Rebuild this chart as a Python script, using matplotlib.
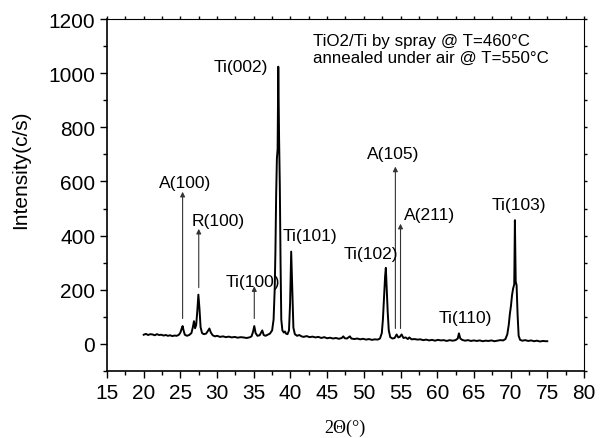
import matplotlib
matplotlib.use("Agg")
import matplotlib.pyplot as plt
from matplotlib.ticker import MultipleLocator

plt.rcParams['font.family'] = ['Liberation Sans', 'DejaVu Sans']

# XRD pattern (2theta in degrees, intensity in c/s)
two_theta = [
    20.0, 20.3, 20.6, 20.9, 21.2, 21.5, 21.8, 22.1, 22.4, 22.7, 23.0, 23.3, 23.6, 23.9,
    24.2, 24.5, 24.8, 25.0, 25.15, 25.3, 25.45, 25.6, 25.9, 26.2, 26.5, 26.7, 26.85, 27.0,
    27.15, 27.3, 27.45, 27.6, 27.75, 27.95, 28.2, 28.5, 28.75, 28.95, 29.15, 29.4, 29.7,
    30.0, 30.4, 30.8, 31.2, 31.6, 32.0, 32.4, 32.8, 33.2, 33.6, 34.0, 34.4, 34.7, 34.9,
    35.07, 35.25, 35.5, 35.8, 36.0, 36.16, 36.35, 36.6, 36.9, 37.2, 37.5, 37.7, 37.85,
    37.95, 38.05, 38.15, 38.25, 38.34, 38.45, 38.55, 38.65, 38.75, 38.9, 39.1, 39.25,
    39.4, 39.6, 39.8, 39.95, 40.1, 40.25, 40.4, 40.6, 40.9, 41.2, 41.5, 41.8, 42.2, 42.6,
    43.0, 43.4, 43.8, 44.2, 44.6, 45.0, 45.4, 45.8, 46.2, 46.6, 47.0, 47.2, 47.4, 47.7,
    48.1, 48.3, 48.7, 49.1, 49.5, 49.9, 50.3, 50.7, 51.1, 51.5, 51.9, 52.2, 52.45, 52.6,
    52.75, 52.9, 53.0, 53.1, 53.25, 53.4, 53.6, 53.9, 54.2, 54.47, 54.7, 54.9, 55.15,
    55.4, 55.7, 56.0, 56.2, 56.5, 56.9, 57.3, 57.7, 58.1, 58.5, 58.9, 59.3, 59.7, 60.1,
    60.5, 60.9, 61.3, 61.7, 62.1, 62.5, 62.8, 62.96, 63.15, 63.4, 63.8, 64.2, 64.6, 65.0,
    65.4, 65.8, 66.2, 66.6, 67.0, 67.4, 67.8, 68.2, 68.6, 69.0, 69.3, 69.55, 69.75, 69.9,
    70.05, 70.2, 70.35, 70.5, 70.59, 70.7, 70.82, 70.96, 71.1, 71.3, 71.6, 72.0, 72.4,
    72.8, 73.2, 73.6, 74.0, 74.4, 74.8, 75.0,
]
intensity = [
    34, 37, 33, 36, 35, 32, 36, 33, 34, 31, 33, 30, 32, 29,
    31, 30, 34, 42, 55, 66, 48, 34, 30, 33, 40, 62, 84, 58,
    70, 120, 182, 130, 62, 40, 36, 38, 48, 57, 42, 32, 28,
    30, 26, 28, 25, 27, 24, 26, 23, 25, 24, 22, 24, 28, 45,
    66, 40, 30, 32, 42, 50, 33, 30, 34, 38, 50, 90, 200,
    341, 550, 684, 720, 1024, 760, 584, 300, 90, 50, 42, 46,
    38, 36, 50, 150, 341, 200, 60, 36, 30, 33, 28, 26, 29, 25,
    27, 24, 26, 22, 25, 21, 23, 20, 22, 19, 22, 28, 21, 20,
    28, 20, 18, 20, 17, 19, 16, 18, 15, 17, 16, 20, 40, 90,
    170, 250, 281, 220, 120, 50, 25, 20, 22, 35, 24, 26, 35,
    22, 24, 18, 24, 17, 18, 16, 17, 14, 16, 13, 15, 12, 15,
    13, 14, 11, 14, 12, 14, 20, 39, 20, 15, 12, 14, 11, 13,
    11, 13, 10, 12, 11, 13, 10, 12, 14, 13, 18, 35, 70, 110,
    140, 180, 205, 220, 457, 230, 217, 106, 30, 15, 12, 14, 11,
    13, 10, 12, 9, 11, 10, 10,
]

# peak labels: text, label x, label y
peak_labels = ["A(100)", "R(100)", "Ti(100)", "Ti(002)", "Ti(101)",
               "Ti(102)", "A(105)", "A(211)", "Ti(110)", "Ti(103)"]
label_x = [25.7, 30.2, 34.9, 33.2, 42.7, 51.0, 54.0, 58.9, 63.8, 71.1]
label_y = [598, 457, 232, 1025, 401, 334, 703, 478, 98, 515]

# arrows: x position, tail y, head y
arrow_x = [25.3, 27.5, 35.07, 54.3, 55.0]
arrow_from = [94, 208, 94, 57, 57]
arrow_to = [562, 425, 213, 655, 444]

fig = plt.figure(figsize=(6.13, 4.39), dpi=100)
ax = fig.add_axes([0.1746, 0.1526, 0.778, 0.8018])

ax.plot(two_theta, intensity, color='black', lw=1.4)

for x, y0, y1 in zip(arrow_x, arrow_from, arrow_to):
    ax.annotate("", xy=(x, y1), xytext=(x, y0),
                arrowprops=dict(arrowstyle='-|>', color='#333333', lw=0.8,
                                mutation_scale=7, shrinkA=0, shrinkB=0))

for t, x, y in zip(peak_labels, label_x, label_y):
    ax.text(x, y, t, fontsize=12.5, ha='center', va='center')

ax.text(43.1, 1090, "TiO2/Ti by spray @ T=460°C\nannealed under air @ T=550°C",
        fontsize=12.2, ha='left', va='center', linespacing=1.15)

ax.set_xlim(15, 80)
ax.set_ylim(-100, 1200)
ax.xaxis.set_major_locator(MultipleLocator(5))
ax.xaxis.set_minor_locator(MultipleLocator(2.5))
ax.yaxis.set_major_locator(MultipleLocator(200))
ax.yaxis.set_minor_locator(MultipleLocator(100))
ax.tick_params(which='major', direction='out', length=5, width=1, labelsize=15)
ax.tick_params(which='minor', direction='out', length=3, width=1)
ax.tick_params(which='both', top=True, right=True, labeltop=False, labelright=False)
for tick in ax.xaxis.get_major_ticks() + ax.xaxis.get_minor_ticks():
    tick.tick2line.set_markersize(2)
for tick in ax.yaxis.get_major_ticks() + ax.yaxis.get_minor_ticks():
    tick.tick2line.set_markersize(2)
for s in ['left', 'bottom']:
    ax.spines[s].set_linewidth(1.2)
for s in ['top', 'right']:
    ax.spines[s].set_linewidth(0.8)

ax.set_ylabel("Intensity(c/s)", fontsize=15)
ax.yaxis.set_label_coords(-0.161, 0.574)
ax.set_xlabel("2\u0398(\u00b0)", fontsize=13, family='Liberation Serif', va='center')
ax.xaxis.set_label_coords(0.499, -0.159)

fig.savefig("out.png", dpi=100)
